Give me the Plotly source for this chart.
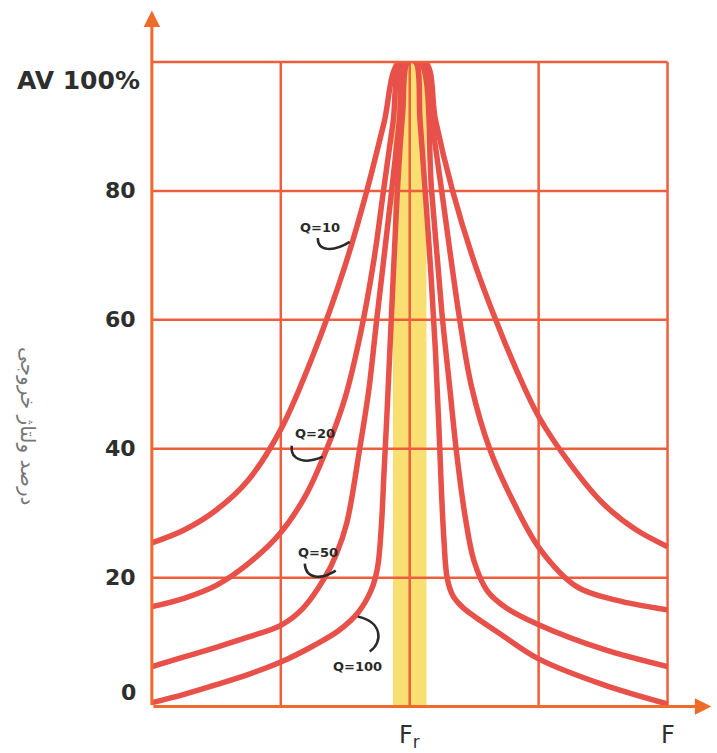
import plotly.graph_objects as go

# Resonance curves: output voltage (% of maximum) against frequency,
# frequency measured in grid divisions with the resonant frequency Fr at 2.
q_labels = ["Q=10", "Q=20", "Q=50", "Q=100"]

freq_q10 = [0, 0.25, 0.5, 0.75, 1.0, 1.25, 1.5, 1.667, 1.80, 1.92,
            2.12, 2.2, 2.333, 2.5, 2.667, 2.833, 3.0, 3.25, 3.5, 3.75, 4.0]
volt_q10 = [25.4, 27.4, 30.5, 35.2, 43, 54.5, 68.5, 80, 90.5, 100,
            100, 91, 80, 69, 60, 52, 45, 37.5, 31.5, 27.5, 24.8]

freq_q20 = [0, 0.25, 0.5, 0.75, 1.0, 1.2, 1.357, 1.5, 1.62, 1.72, 1.80, 1.87, 1.94,
            2.10, 2.17, 2.248, 2.388, 2.48, 2.62, 2.798, 3.008, 3.295, 3.6, 4.0]
volt_q20 = [15.5, 16.8, 18.8, 22.2, 27, 33, 40, 48, 58, 69, 80.5, 90.5, 100,
            100, 91, 80, 60, 49.6, 40, 32, 24.5, 18.6, 16.5, 15]

freq_q50 = [0, 0.25, 0.5, 0.75, 1.0, 1.17, 1.341, 1.43, 1.512, 1.612, 1.682, 1.744, 1.86, 1.92, 1.965,
            2.08, 2.17, 2.25, 2.31, 2.36, 2.43, 2.5, 2.6, 2.75, 3.0, 3.5, 4.0]
volt_q50 = [6.2, 7.7, 9.2, 10.8, 12.6, 15.2, 20, 23.6, 28.5, 40, 49, 60, 80, 91, 100,
            100, 80, 61, 49.6, 40, 29.5, 22.5, 18, 15.3, 12.7, 8.9, 6.2]

freq_q100 = [0, 0.25, 0.5, 0.75, 1.0, 1.25, 1.45, 1.6, 1.7, 1.75, 1.78, 1.80, 1.825, 1.85, 1.88, 1.91, 1.945, 1.985,
             2.045, 2.08, 2.12, 2.165, 2.2, 2.225, 2.245, 2.265, 2.29, 2.33, 2.4, 2.5, 2.7, 3.0, 3.5, 4.0]
volt_q100 = [0.6, 1.9, 3.4, 5.0, 6.9, 9.4, 11.8, 14.6, 18, 21.5, 28, 36, 46, 57, 70, 82, 92, 100,
             100, 91, 80, 67, 55, 44, 34, 26, 20, 17.4, 15.6, 14, 11.3, 7.4, 3.4, 0.4]

y_ticks = [0, 20, 40, 60, 80]
y_tick_text = ["0", "20", "40", "60", "80"]
top_label = "AV 100%"
x_grid = [1, 2, 3, 4]
y_grid = [20, 40, 60, 80]
fr_pos = 2
fr_label = "F<sub>r</sub>"
f_label = "F"
f_end = 4.0
y_title = "درصد ولتاژ خروجی"

# Label anchors (frequency, voltage) for the curve names
label_pos = {"Q=10": (1.302, 74.3), "Q=20": (1.264, 42.3),
             "Q=50": (1.287, 23.9), "Q=100": (1.597, 6.2)}

curve_color = "#e8504a"
grid_color = "#ef5e3c"
axis_color = "#f06a2c"
text_color = "#2e2e2e"

X_RANGE = [-0.03, 4.05]
Y_RANGE = [-1, 100]

fig = go.Figure()

series = [(freq_q10, volt_q10), (freq_q20, volt_q20), (freq_q50, volt_q50), (freq_q100, volt_q100)]
for name, (fx, vy) in zip(q_labels, series):
    fig.add_trace(go.Scatter(x=fx, y=vy, mode="lines", name=name,
                             line=dict(color=curve_color, width=5.5, shape="spline", smoothing=1.0),
                             hoverinfo="skip", showlegend=False))

shapes = []
# yellow band around the resonant frequency
shapes.append(dict(type="rect", xref="x", yref="y", x0=fr_pos - 0.13, x1=fr_pos + 0.13, y0=0, y1=100,
                   fillcolor="#f7d64e", opacity=0.8, line=dict(width=0), layer="below"))
for gx in x_grid:
    shapes.append(dict(type="line", xref="x", yref="y", x0=gx, x1=gx, y0=0, y1=100,
                       line=dict(color=grid_color, width=2.5), layer="below"))
for gy in y_grid:
    shapes.append(dict(type="line", xref="x", yref="y", x0=0, x1=4, y0=gy, y1=gy,
                       line=dict(color=grid_color, width=2.5), layer="below"))


def to_paper_x(v):
    return (v - X_RANGE[0]) / (X_RANGE[1] - X_RANGE[0])


# 100 % line along the top edge (paper coordinates so it is not clipped)
shapes.append(dict(type="line", xref="paper", yref="paper", x0=to_paper_x(0), x1=to_paper_x(4),
                   y0=1, y1=1, line=dict(color=grid_color, width=2.5)))


def px_to_data(px, py):
    # helper for the small hand-drawn pointer hooks
    return (px - 152) / 129.0, (707 - py) / 6.45


def hook_path(points):
    (x0, y0), (x1, y1), (x2, y2), (x3, y3) = [px_to_data(*p) for p in points]
    return f"M {x0},{y0} C {x1},{y1} {x2},{y2} {x3},{y3}"


hooks = [
    [(318, 238), (318, 252), (334, 252), (350, 242)],
    [(292, 446), (290, 462), (308, 464), (323, 457)],
    [(305, 564), (306, 580), (322, 580), (336, 571)],
    [(358, 617), (382, 622), (384, 642), (370, 652)],
]
for h in hooks:
    shapes.append(dict(type="path", xref="x", yref="y", path=hook_path(h),
                       line=dict(color="#2a2a2a", width=2.5)))

annotations = []
# axes with arrowheads
annotations.append(dict(x=0, y=108, ax=0, ay=0, xref="x", yref="y", axref="x", ayref="y",
                        text="", showarrow=True, arrowhead=2, arrowsize=1.1, arrowwidth=3,
                        arrowcolor=axis_color))
annotations.append(dict(x=4.34, y=0, ax=0, ay=0, xref="x", yref="y", axref="x", ayref="y",
                        text="", showarrow=True, arrowhead=2, arrowsize=1.1, arrowwidth=3,
                        arrowcolor=axis_color))

tick_font = dict(family="DejaVu Sans", size=22, color=text_color, weight="bold")
for v, t in zip(y_ticks, y_tick_text):
    annotations.append(dict(x=0, y=v, xref="x", yref="y", text=t, showarrow=False,
                            xanchor="right", yanchor="middle", xshift=-14,
                            yshift=14 if v == 0 else 0, font=tick_font))
annotations.append(dict(x=0, y=100, xref="x", yref="y", text=top_label, showarrow=False,
                        xanchor="right", yanchor="middle", xshift=-10, yshift=-18,
                        font=dict(family="DejaVu Sans", size=25, color=text_color, weight="bold")))

annotations.append(dict(x=fr_pos, y=0, xref="x", yref="y", text=fr_label, showarrow=False,
                        xanchor="center", yanchor="top", yshift=-12,
                        font=dict(family="DejaVu Sans", size=24, color=text_color)))
annotations.append(dict(x=f_end, y=0, xref="x", yref="y", text=f_label, showarrow=False,
                        xanchor="center", yanchor="top", yshift=-12,
                        font=dict(family="DejaVu Sans", size=24, color=text_color)))

for name in q_labels:
    lx, ly = label_pos[name]
    annotations.append(dict(x=lx, y=ly, xref="x", yref="y", text=f"<b>{name}</b>", showarrow=False,
                            xanchor="center", yanchor="middle",
                            font=dict(family="DejaVu Sans", size=13, color="#2a2a2a")))

annotations.append(dict(x=to_paper_x((28 - 152) / 129.0), y=(714 - 427) / 651.0,
                        xref="paper", yref="paper", text=y_title, showarrow=False,
                        textangle=90, xanchor="center", yanchor="middle",
                        font=dict(family="DejaVu Sans", size=20, color="#767676")))

fig.update_layout(
    width=717, height=753,
    margin=dict(l=148, r=43, t=62, b=40),
    paper_bgcolor="white", plot_bgcolor="white",
    xaxis=dict(range=X_RANGE, visible=False, fixedrange=True),
    yaxis=dict(range=Y_RANGE, visible=False, fixedrange=True),
    shapes=shapes, annotations=annotations,
    showlegend=False,
)

fig.write_html("out.html")
